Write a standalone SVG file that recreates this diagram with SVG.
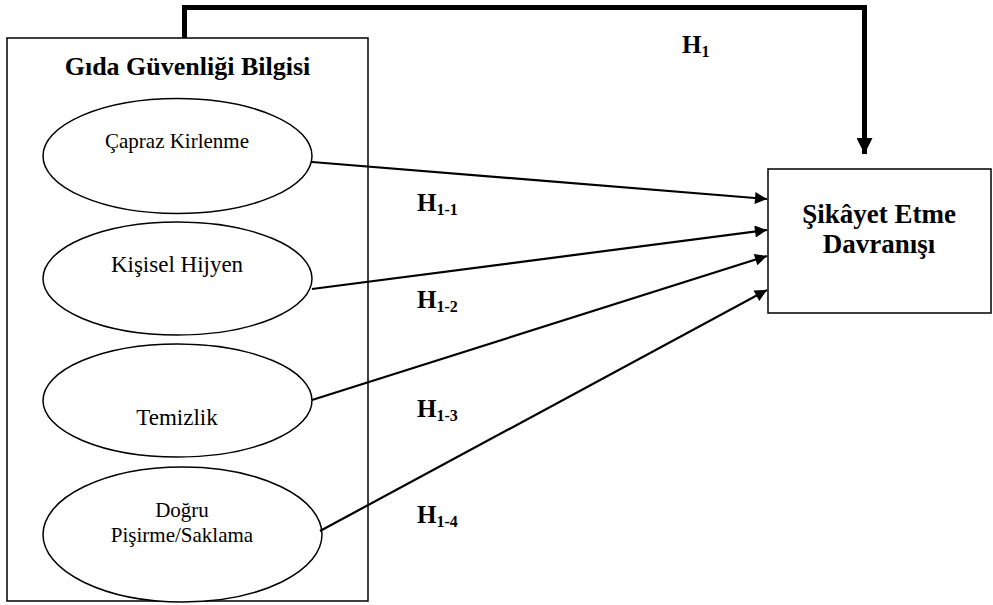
<svg xmlns="http://www.w3.org/2000/svg" width="993" height="605" viewBox="0 0 993 605">
<style>
  .box { fill: #fff; stroke: #000; stroke-width: 1.5; }
  .frame { fill: none; stroke: #000; stroke-width: 1.5; }
  .ell { fill: #fff; stroke: #000; stroke-width: 1.5; }
  .t { font-family: "Liberation Serif", "Times New Roman", serif; fill: #000; text-anchor: middle; }
  .b { font-weight: bold; }
  .lbl { font-family: "Liberation Serif", "Times New Roman", serif; font-weight: bold; fill: #000; font-size: 25px; }
  .sub { font-size: 16px; }
  .thin { fill: none; stroke: #000; stroke-width: 2.2; }
  .thick { fill: none; stroke: #000; stroke-width: 5; }
</style>
<defs>
  <marker id="ah" viewBox="0 0 10 10" refX="10" refY="5" markerWidth="16" markerHeight="12" markerUnits="userSpaceOnUse" orient="auto">
    <path d="M0,0 L10,5 L0,10 z" fill="#000"/>
  </marker>
  <marker id="ahb" viewBox="0 0 10 10" refX="10" refY="5" markerWidth="17" markerHeight="16" markerUnits="userSpaceOnUse" orient="auto">
    <path d="M0,0 L10,5 L0,10 z" fill="#000"/>
  </marker>
</defs>
<rect width="993" height="605" fill="#fff"/>
<g id="knowledge">
  <rect class="frame" x="7" y="38" width="361" height="563"/>
  <text class="t b" x="187.5" y="75" font-size="26">Gıda Güvenliği Bilgisi</text>
</g>
<g id="capraz">
  <ellipse class="ell" cx="177.5" cy="156" rx="134.5" ry="57.5"/>
  <text class="t" x="177" y="148" font-size="21">Çapraz Kirlenme</text>
</g>
<g id="kisisel">
  <ellipse class="ell" cx="177.5" cy="278.5" rx="134.5" ry="56.5"/>
  <text class="t" x="177" y="272" font-size="23">Kişisel Hijyen</text>
</g>
<g id="temizlik">
  <ellipse class="ell" cx="177.5" cy="400.5" rx="134.5" ry="56.5"/>
  <text class="t" x="177" y="425" font-size="23">Temizlik</text>
</g>
<g id="dogru">
  <ellipse class="ell" cx="182.5" cy="534.5" rx="139.5" ry="67.5"/>
  <text class="t" x="182" y="517" font-size="21">Doğru</text>
  <text class="t" x="182" y="542" font-size="21">Pişirme/Saklama</text>
</g>
<g id="sikayet">
  <rect class="box" x="768" y="169" width="223" height="144"/>
  <text class="t b" x="879" y="223" font-size="27">Şikâyet Etme</text>
  <text class="t b" x="879" y="253" font-size="27">Davranışı</text>
</g>
<g id="connectors">
  <path class="thick" d="M184.5,38 V7.5 H864.5 V154" marker-end="url(#ahb)"/>
  <line class="thin" x1="312" y1="162" x2="767" y2="199" marker-end="url(#ah)"/>
  <line class="thin" x1="312" y1="289" x2="767" y2="230" marker-end="url(#ah)"/>
  <line class="thin" x1="312" y1="400" x2="767" y2="256" marker-end="url(#ah)"/>
  <line class="thin" x1="320" y1="531" x2="767" y2="290" marker-end="url(#ah)"/>
</g>
<g id="labels">
  <text class="lbl" x="682" y="53">H<tspan class="sub" dy="4">1</tspan></text>
  <text class="lbl" x="417" y="211">H<tspan class="sub" dy="4">1-1</tspan></text>
  <text class="lbl" x="417" y="308">H<tspan class="sub" dy="4">1-2</tspan></text>
  <text class="lbl" x="417" y="417">H<tspan class="sub" dy="4">1-3</tspan></text>
  <text class="lbl" x="417" y="523">H<tspan class="sub" dy="4">1-4</tspan></text>
</g>
</svg>
